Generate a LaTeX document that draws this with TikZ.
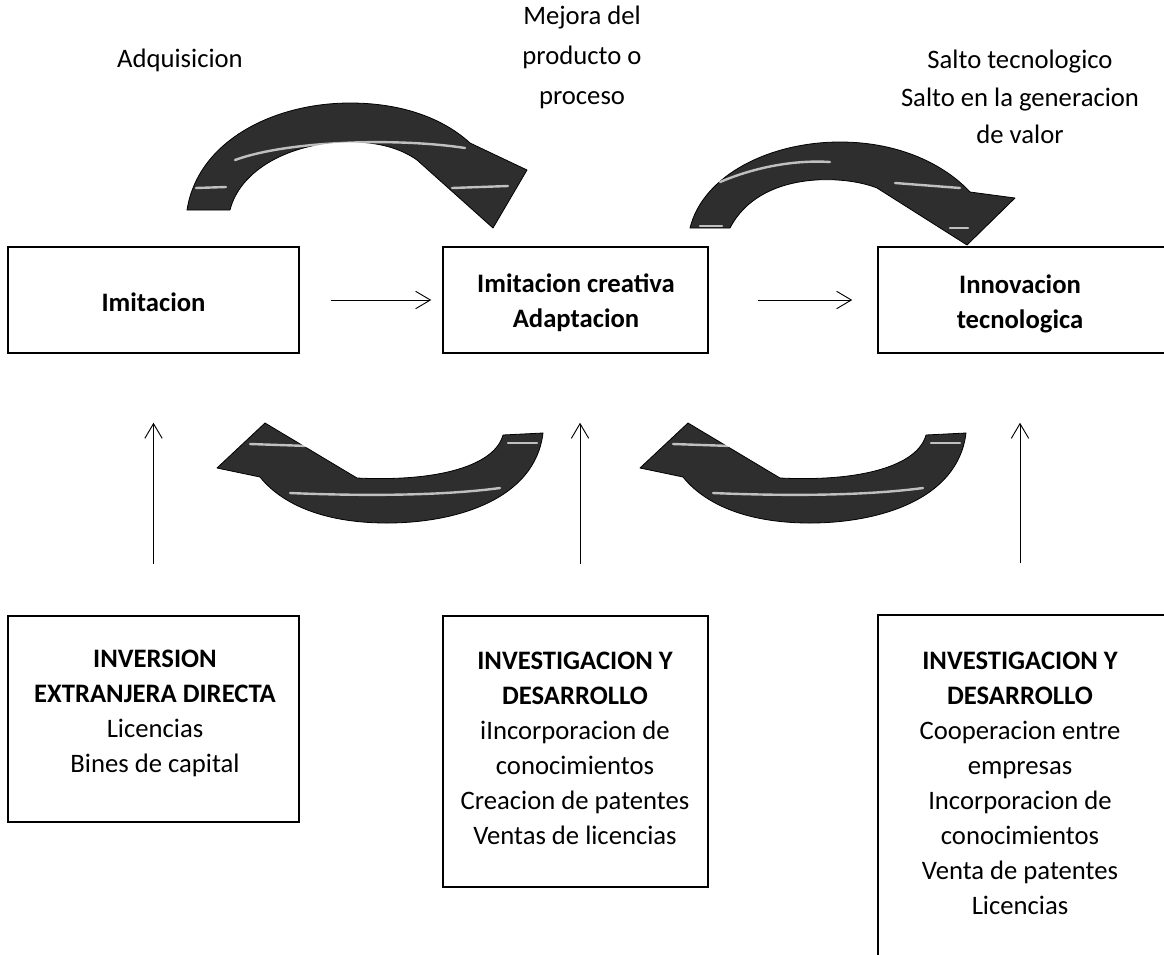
\documentclass[tikz,border=0pt]{standalone}
\usepackage{fontspec}
\setmainfont{Carlito}
\usetikzlibrary{arrows.meta}
\begin{document}
\begin{tikzpicture}[x=0.75pt,y=-0.75pt,
  box/.style={draw=black, line width=1.1pt, rectangle, inner sep=0pt},
  lbl/.style={align=center, font=\fontsize{20}{26.25}\selectfont, inner sep=0pt},
  conn/.style={line width=0.7pt, -{Straight Barb[length=11pt,width=13pt]}},
  curved/.style={fill=black!82, draw=black, line width=0.6pt, line join=round},
  streak/.style={draw=white, opacity=0.7, line width=1.8pt, line cap=round}]
\useasboundingbox (0,0) rectangle (1164,954);
\clip (0,0) rectangle (1164,954);

% top boxes
\node[box, minimum width=218.25pt, minimum height=79.5pt] (b1) at (153.5,300) {};
\node[box, minimum width=198.75pt, minimum height=79.5pt] (b2) at (575.5,300) {};
\node[box, minimum width=216pt, minimum height=79.5pt] (b3) at (1022,300) {};
% bottom boxes
\node[box, minimum width=218.25pt, minimum height=154.5pt] (bb1) at (153.5,719) {};
\node[box, minimum width=198.75pt, minimum height=203.25pt] (bb2) at (575.5,751.5) {};
\node[box, minimum width=216pt, minimum height=288.75pt] (bb3) at (1022,807.5) {};

% texts in boxes
\node[lbl] (t1) at (153.5,302) {\bfseries Imitacion};
\node[lbl] (t2) at (576,302.5) {\bfseries Imitacion creativa\\\bfseries Adaptacion};
\node[lbl] (t3) at (1020,303.5) {\bfseries Innovacion\\\bfseries tecnologica};
\node[lbl] (tb1) at (155,713.5) {\bfseries INVERSION\\\bfseries EXTRANJERA DIRECTA\\Licencias\\Bines de capital};
\node[lbl] (tb2) at (575,748.5) {\bfseries INVESTIGACION Y\\\bfseries DESARROLLO\\iIncorporacion de\\conocimientos\\Creacion de patentes\\Ventas de licencias};
\node[lbl] (tb3) at (1020,783.5) {\bfseries INVESTIGACION Y\\\bfseries DESARROLLO\\Cooperacion entre\\empresas\\Incorporacion de\\conocimientos\\Venta de patentes\\Licencias};

% top labels
\node[lbl] (l1) at (180,60) {Adquisicion};
\node[lbl, font=\fontsize{20}{30}\selectfont] (l2) at (582,57) {Mejora del\\producto o\\proceso};
\node[lbl, font=\fontsize{20}{28}\selectfont] (l3) at (1020,97) {Salto tecnologico\\Salto en la generacion\\de valor};

% straight connectors
\draw[conn, shorten <=23.25pt, shorten >=8.25pt] (b1.east) -- (b2.west);
\draw[conn, shorten <=36.75pt, shorten >=18.75pt] (b2.east) -- (b3.west);
\draw[conn, shorten <=38.25pt, shorten >=51.75pt] (bb1.north) -- (b1.south);
\draw[conn, shorten <=38.25pt, shorten >=51.75pt] ([xshift=3.4pt]bb2.north) -- ([xshift=3.4pt]b2.south);
\draw[conn, shorten <=38.25pt, shorten >=51.75pt] ([xshift=-1.5pt]bb3.north) -- ([xshift=-1.5pt]b3.south);

% curved arrow 1 (top left)
\filldraw[curved] (187,210) .. controls (198,140) and (275,103) .. (350,103)
  .. controls (405,103) and (445,120) .. (470,143) -- (527,170) -- (493,228) -- (417,160)
  .. controls (400,148) and (378,142) .. (350,142)
  .. controls (290,142) and (240,170) .. (230,210) -- cycle;
\draw[streak] (235,160) .. controls (290,140) and (400,138) .. (465,148);
\draw[streak] (196,188) -- (226,187);
\draw[streak] (452,188) -- (508,186);

% curved arrow 2 (top right)
\filldraw[curved] (690,228) .. controls (703,175) and (770,142) .. (840,142)
  .. controls (900,142) and (945,165) .. (970,192) -- (1015,198) -- (967,245) -- (877,188)
  .. controls (845,175) and (760,170) .. (730,228) -- cycle;
\draw[streak] (720,182) .. controls (760,165) and (800,160) .. (830,162);
\draw[streak] (895,183) -- (960,188);
\draw[streak] (700,226) -- (722,226);
\draw[streak] (950,228) -- (968,228);

% curved arrow 3 (bottom left)
\filldraw[curved] (217,468) -- (265,423) -- (357,478)
  .. controls (440,482) and (495,465) .. (503,435) -- (543,433)
  .. controls (535,500) and (455,523) .. (387,523)
  .. controls (320,523) and (280,502) .. (260,477) -- cycle;
\draw[streak] (290,493) .. controls (360,496) and (440,496) .. (500,488);
\draw[streak] (250,444) -- (308,446);
\draw[streak] (508,443) -- (537,443);

% curved arrow 4 (bottom right)
\filldraw[curved] (640,468) -- (688,423) -- (780,478)
  .. controls (863,482) and (918,465) .. (926,435) -- (966,433)
  .. controls (958,500) and (878,523) .. (810,523)
  .. controls (743,523) and (703,502) .. (683,477) -- cycle;
\draw[streak] (713,493) .. controls (783,496) and (863,496) .. (923,488);
\draw[streak] (673,444) -- (731,446);
\draw[streak] (931,443) -- (960,443);
\end{tikzpicture}
\end{document}
